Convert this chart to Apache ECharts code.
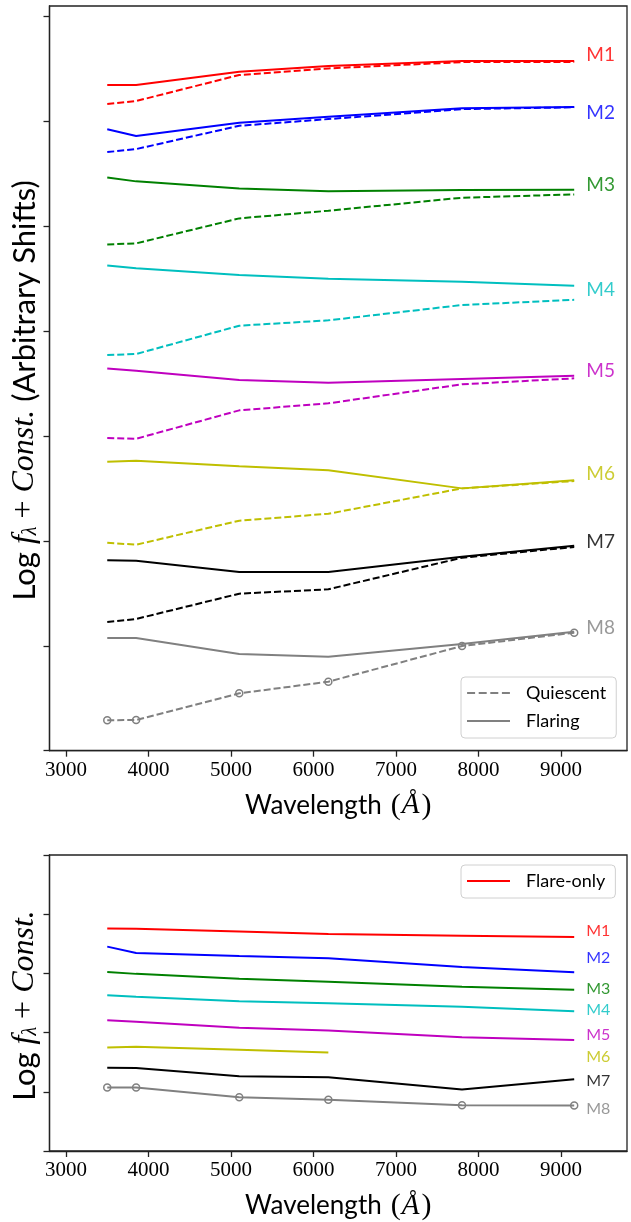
<!DOCTYPE html>
<html><head><meta charset="utf-8">
<script src="https://cdn.jsdelivr.net/npm/echarts@6/dist/echarts.min.js"></script>
<style>html,body{margin:0;padding:0;background:#fff}#c{width:631px;height:1222px}</style>
</head><body><div id="c"></div>
<script>
// ---- data ----
const wavelengths = [3500, 3850, 5100, 6180, 7800, 9160];
const stars = ['M1', 'M2', 'M3', 'M4', 'M5', 'M6', 'M7', 'M8'];
const xTicks = [3000, 4000, 5000, 6000, 7000, 8000, 9000];
const yTicksTop = [0, 1, 2, 3, 4, 5, 6, 7];
const yTicksBottom = [0, 1, 2, 3, 4, 5];

// top panel: quiescent (dashed) and flaring (solid), arbitrary shifts
const quiescentTop = [
  [6.165, 6.194, 6.442, 6.505, 6.565, 6.565],
  [5.707, 5.736, 5.958, 6.022, 6.117, 6.134],
  [4.827, 4.837, 5.075, 5.148, 5.272, 5.304],
  [3.772, 3.782, 4.052, 4.103, 4.249, 4.299],
  [2.981, 2.974, 3.245, 3.312, 3.493, 3.550],
  [1.983, 1.964, 2.193, 2.259, 2.501, 2.571],
  [1.227, 1.256, 1.497, 1.539, 1.840, 1.942],
  [0.290, 0.293, 0.547, 0.658, 0.998, 1.125]
];
const flaringTop = [
  [6.346, 6.346, 6.473, 6.527, 6.575, 6.575],
  [5.924, 5.860, 5.987, 6.044, 6.124, 6.136],
  [5.466, 5.428, 5.361, 5.333, 5.345, 5.348],
  [4.627, 4.599, 4.535, 4.500, 4.471, 4.433],
  [3.645, 3.622, 3.534, 3.508, 3.543, 3.575],
  [2.755, 2.765, 2.711, 2.673, 2.501, 2.578],
  [1.815, 1.811, 1.704, 1.704, 1.849, 1.954],
  [1.074, 1.074, 0.922, 0.896, 1.017, 1.134]
];
// bottom panel: flare-only spectra
const flareOnly = [
  [3.760, 3.755, 3.709, 3.664, 3.637, 3.613],
  [3.452, 3.345, 3.294, 3.255, 3.109, 3.020],
  [3.025, 2.992, 2.908, 2.857, 2.773, 2.723],
  [2.629, 2.605, 2.528, 2.494, 2.437, 2.360],
  [2.208, 2.185, 2.084, 2.034, 1.923, 1.877],
  [1.748, 1.760, 1.709, 1.664, null, null],
  [1.407, 1.402, 1.261, 1.244, 1.037, 1.210],
  [1.071, 1.071, 0.908, 0.864, 0.773, 0.768]
];
const labelWavelength = 9300;
const labelLevelTop = [6.632, 6.079, 5.393, 4.392, 3.620, 2.644, 1.992, 1.167];
const labelLevelBottom = [3.714, 3.255, 2.734, 2.376, 1.961, 1.587, 1.183, 0.718];

// ---- styles ----
const colors = ['#ff0000', '#0000ff', '#008000', '#00bfbf', '#bf00bf', '#bfbf00', '#000000', '#808080'];
const markerStar = 'M8';
const SANS = 'Lato';
const SERIF = 'Liberation Serif';
const FRAME = '#222';
const DASH_ICON = 'path://M0,0H8V2H0Z M11.6,0H19.6V2H11.6Z M23.2,0H31.2V2H23.2Z M34.8,0H42.8V2H34.8Z';

const pts = arr => wavelengths.map((w, i) => [w, arr[i]]);

const series = [];
stars.forEach((s, k) => {
  const mk = s === markerStar;
  const common = {
    type: 'line', silent: true, animation: false,
    symbol: mk ? 'circle' : 'none', symbolSize: 7, showSymbol: mk,
    itemStyle: { color: 'rgba(0,0,0,0)', borderColor: colors[k], borderWidth: 1.5 },
    emphasis: { disabled: true }
  };
  series.push(Object.assign({}, common, {
    name: s + ' quiescent', xAxisIndex: 0, yAxisIndex: 0, data: pts(quiescentTop[k]),
    lineStyle: { color: colors[k], width: 2, type: [7, 3] }
  }));
  series.push(Object.assign({}, common, {
    name: s + ' flaring', xAxisIndex: 0, yAxisIndex: 0, data: pts(flaringTop[k]),
    symbol: 'none', showSymbol: false,
    lineStyle: { color: colors[k], width: 2 }
  }));
  series.push(Object.assign({}, common, {
    name: s + ' flare-only', xAxisIndex: 1, yAxisIndex: 1, data: pts(flareOnly[k]),
    lineStyle: { color: colors[k], width: 2 }
  }));
});

// star labels
function labelSeries(levels, xi, fs) {
  return {
    type: 'scatter', silent: true, animation: false, xAxisIndex: xi, yAxisIndex: xi,
    symbol: 'circle', symbolSize: 1, itemStyle: { color: 'rgba(0,0,0,0)' },
    data: stars.map((s, k) => ({
      name: s, value: [labelWavelength, levels[k]],
      label: { color: colors[k] }
    })),
    label: { show: true, position: 'right', distance: 0, formatter: '{b}',
             fontFamily: SANS, fontSize: fs, align: 'left', verticalAlign: 'middle' }
  };
}
series.push(labelSeries(labelLevelTop, 0, 19));
series.push(labelSeries(labelLevelBottom, 1, 16));

// legend proxy series
series.push({ name: 'Quiescent', type: 'line', data: [], symbol: 'none', xAxisIndex: 0, yAxisIndex: 0,
  lineStyle: { color: '#808080', width: 2, type: [7, 3] }, itemStyle: { color: '#808080' } });
series.push({ name: 'Flaring', type: 'line', data: [], symbol: 'none', xAxisIndex: 0, yAxisIndex: 0,
  lineStyle: { color: '#808080', width: 2 }, itemStyle: { color: '#808080' } });
series.push({ name: 'Flare-only', type: 'line', data: [], symbol: 'none', xAxisIndex: 1, yAxisIndex: 1,
  lineStyle: { color: '#ff0000', width: 2 }, itemStyle: { color: '#ff0000' } });

const xName = '{a|Wavelength}{p|(}{i|Å}{p|)}';
const xNameStyle = { rich: {
  a: { fontFamily: SANS, fontSize: 26, color: '#000', padding: [0, 9, 0, 0] },
  p: { fontFamily: SERIF, fontSize: 30, color: '#000' },
  i: { fontFamily: SERIF, fontStyle: 'italic', fontSize: 29, color: '#000', padding: [0, 2, 0, 1] }
} };
const yRich = {
  a: { fontFamily: SANS, fontSize: 31, color: '#000' },
  m: { fontFamily: SERIF, fontStyle: 'italic', fontSize: 32, color: '#000' },
  s: { fontFamily: SERIF, fontStyle: 'italic', fontSize: 20, color: '#000', padding: [12, 0, 0, 0] },
  b: { fontFamily: SERIF, fontSize: 32, color: '#000' },
  g: { width: 24 },
  h: { width: 5 }
};

function xAxis(gi) {
  return {
    type: 'value', gridIndex: gi, min: 2800, max: 9800,
    name: xName, nameLocation: 'middle', nameGap: 40, nameTextStyle: xNameStyle,
    axisLine: { show: true, lineStyle: { color: FRAME, width: 1.3 } },
    axisTick: { show: true, length: 6, customValues: xTicks, lineStyle: { color: FRAME, width: 1.3 } },
    axisLabel: { show: true, customValues: xTicks, margin: 9, fontFamily: SERIF, fontSize: 21, color: '#000',
                 formatter: v => String(v) },
    splitLine: { show: false }
  };
}
function yAxis(gi, max, ticks, name) {
  return {
    type: 'value', gridIndex: gi, min: 0, max: max,
    name: name, nameLocation: 'middle', nameGap: 9, nameTextStyle: { rich: yRich },
    axisLine: { show: true, lineStyle: { color: FRAME, width: 1.3 } },
    axisTick: { show: true, length: 6, customValues: ticks, lineStyle: { color: FRAME, width: 1.3 } },
    axisLabel: { show: false },
    splitLine: { show: false }
  };
}

const legendCommon = {
  orient: 'vertical', left: 461, itemWidth: 43, itemHeight: 2, itemGap: 10,
  padding: [7, 10, 8, 6], backgroundColor: '#fff', borderColor: '#d0d0d0', borderWidth: 1, borderRadius: 4,
  selectedMode: false,
  textStyle: { fontFamily: SANS, fontSize: 18, color: '#000', padding: [0, 0, 0, 11] }
};

const option = {
  animation: false,
  backgroundColor: '#fff',
  grid: [
    { left: 49.5, top: 6, width: 577.5, height: 744.7, show: true, borderColor: FRAME, borderWidth: 1.3, backgroundColor: 'transparent' },
    { left: 49.5, top: 855, width: 577.5, height: 297.7, show: true, borderColor: FRAME, borderWidth: 1.3, backgroundColor: 'transparent' }
  ],
  xAxis: [xAxis(0), xAxis(1)],
  yAxis: [
    yAxis(0, 7.1, yTicksTop, '{a|Log }{m|f}{s|λ}{b| + }{m|Const.}{a| (Arbitrary Shifts)}{g|}'),
    yAxis(1, 5, yTicksBottom, '{a|Log }{m|f}{s|λ}{b| + }{m|Const.}{h|}')
  ],
  legend: [
    Object.assign({}, legendCommon, { top: 677, data: [
      { name: 'Quiescent', icon: DASH_ICON }, { name: 'Flaring', icon: 'rect' }] }),
    Object.assign({}, legendCommon, { top: 865, data: [{ name: 'Flare-only', icon: 'rect' }] })
  ],
  series: series
};

const chart = echarts.init(document.getElementById('c'), null, { renderer: 'canvas' });
chart.setOption(option);
</script>
</body></html>
